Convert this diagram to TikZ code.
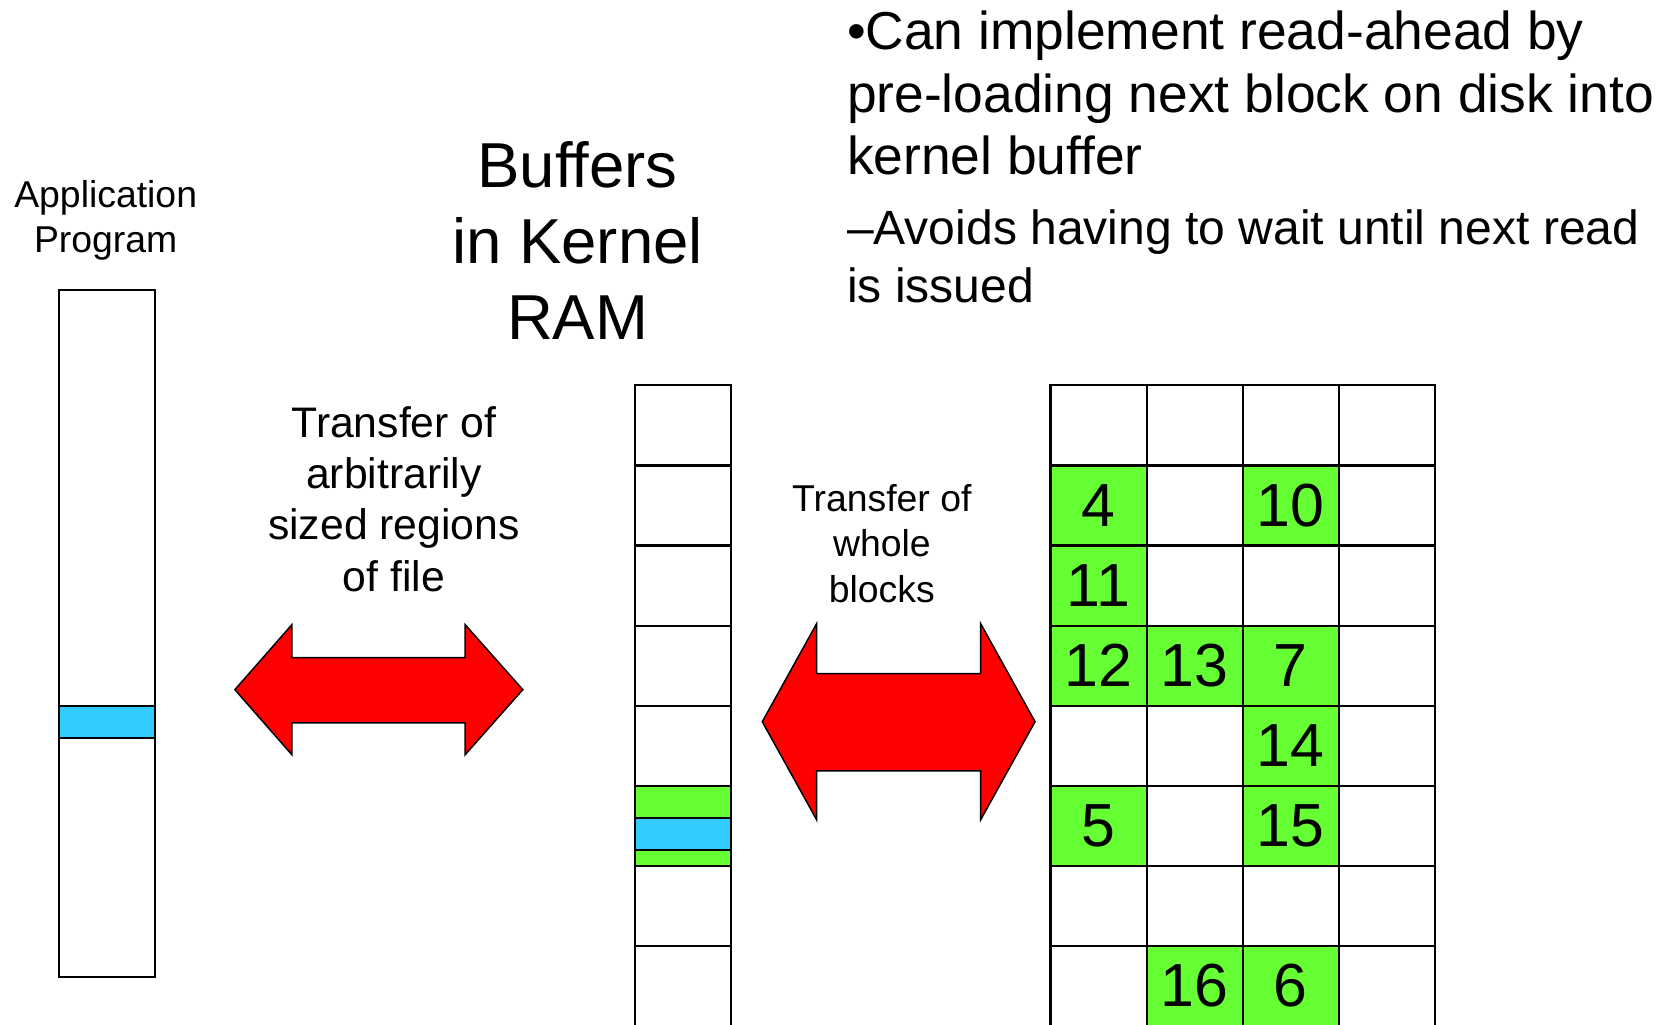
\documentclass[tikz,border=0pt]{standalone}
\usepackage{fontspec}
\setmainfont{Liberation Sans}
\definecolor{cellgreen}{HTML}{66FF33}
\definecolor{cellcyan}{HTML}{33CCFF}
\begin{document}
\begin{tikzpicture}[x=0.5pt,y=-0.5pt,
  cell/.style={draw=black,line width=1pt,minimum width=45pt,minimum height=37.5pt,inner sep=0pt,outer sep=0pt,anchor=north west,font=\fontsize{28.5}{34}\selectfont},
  gcell/.style={cell,fill=cellgreen},
  band/.style={draw=black,line width=1pt,minimum width=45pt,minimum height=15pt,inner sep=0pt,outer sep=0pt,anchor=north west,fill=cellcyan},
  bigarrow/.style={draw=black,line width=0.7pt,fill=red,line join=miter},
  label/.style={align=center,inner sep=0pt}]
\useasboundingbox (0,0) rectangle (1568,960);
\clip (0,0) rectangle (1568,960);
% application program
\node[draw=black,line width=1pt,minimum width=45pt,minimum height=321.5pt,inner sep=0pt,outer sep=0pt,anchor=north west] (app) at (55,272) {};
\node[band] (appband) at (55,661) {};
\node[label,font=\fontsize{17.5}{21}\selectfont] (apptitle) at (99,206) {Application\\Program};
% kernel buffers
\node[label,font=\fontsize{29.75}{35.5}\selectfont] (buftitle) at (541,225) {Buffers\\in Kernel\\RAM};
\foreach \r in {0,...,7} {
  \node[cell] (buf-\r) at (595,{361+75*\r}) {};
}
\node[gcell] (bufblock) at (595,736) {};
\node[band] (bufband) at (595,766) {};
% disk grid
\foreach \r in {0,...,7} {
  \foreach \c in {0,...,3} {
    \node[cell] (g-\r-\c) at ({984+90*\c},{361+75*\r}) {};
  }
}
\foreach \r/\c/\t in {1/0/4,1/2/10,2/0/11,3/0/12,3/1/13,3/2/7,4/2/14,5/0/5,5/2/15,7/1/16,7/2/6} {
  \node[gcell] (blk-\t) at ({984+90*\c},{361+75*\r}) {\t};
}
% arrows
\draw[bigarrow] (220,646) -- (273.5,585) -- (273.5,616) -- (435.6,616) -- (435.6,585) -- (489.7,646) -- (435.6,707) -- (435.6,677) -- (273.5,677) -- (273.5,707) -- cycle;
\draw[bigarrow] (714,676) -- (765,584) -- (765,631) -- (918.5,631) -- (918.5,584) -- (969.5,676) -- (918.5,768) -- (918.5,722) -- (765,722) -- (765,768) -- cycle;
\node[label,font=\fontsize{20}{24}\selectfont] (xfer1) at (369,467.5) {Transfer of\\arbitrarily\\sized regions\\of file};
\node[label,font=\fontsize{17.5}{21.25}\selectfont] (xfer2) at (826,509) {Transfer of\\whole\\blocks};
% bullet text
\node[align=left,anchor=north west,inner sep=0pt,font=\fontsize{25}{29.25}\selectfont] (pt1) at (793,10) {•Can implement read-ahead by\\pre-loading next block on disk into\\kernel buffer};
\node[align=left,anchor=north west,inner sep=0pt,font=\fontsize{22.5}{27}\selectfont] (pt2) at (793,196) {–Avoids having to wait until next read\\is issued};
\end{tikzpicture}
\end{document}
